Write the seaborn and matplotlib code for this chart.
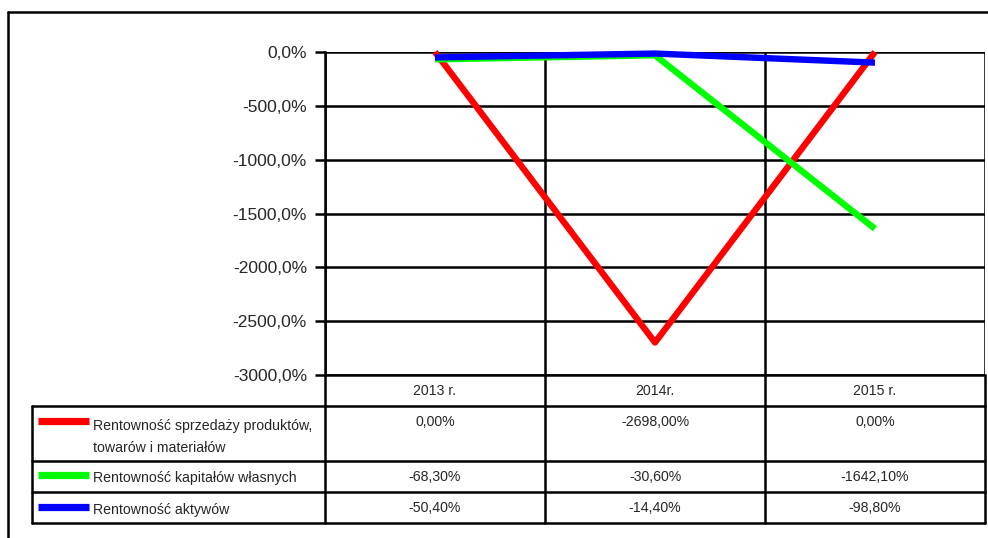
import matplotlib
matplotlib.use("Agg")
import matplotlib.pyplot as plt
import seaborn as sns
import pandas as pd
from matplotlib.lines import Line2D

categories = ["2013 r.", "2014r.", "2015 r."]
series_names = ["Rentowność sprzedaży produktów,\ntowarów i materiałów",
                "Rentowność kapitałów własnych",
                "Rentowność aktywów"]
sprzedaz = [0.00, -2698.00, 0.00]
kapital = [-68.30, -30.60, -1642.10]
aktywa = [-50.40, -14.40, -98.80]
colors = ["#ff0000", "#00ff00", "#0000ff"]
y_ticks = [0, -500, -1000, -1500, -2000, -2500, -3000]

sns.set_theme(style="white")
plt.rcParams["font.family"] = ["Liberation Sans", "DejaVu Sans"]

W, H = 988, 538
fig = plt.figure(figsize=(W / 100, H / 100), dpi=100)

def fx(px):
    return px / W

def fy(py):
    return 1 - py / H

ax = fig.add_axes([fx(325), fy(375), fx(985) - fx(325), fy(52) - fy(375)])

df = pd.DataFrame({
    "cat": categories * 3,
    "val": sprzedaz + kapital + aktywa,
    "series": [series_names[0]] * 3 + [series_names[1]] * 3 + [series_names[2]] * 3,
})
sns.lineplot(data=df, x="cat", y="val", hue="series", palette=colors,
             linewidth=4.6, legend=False, ax=ax, sort=False)
for ln in ax.get_lines():
    ln.set_clip_on(False)
    ln.set_solid_capstyle("butt")

ax.set_xlim(-0.5, 2.5)
ax.set_ylim(-3000, 0)
ax.set_yticks(y_ticks)
ax.set_yticklabels([f"{v:.1f}%".replace(".", ",") for v in y_ticks], fontsize=12.5)
ax.set_xticks([])
ax.set_xlabel("")
ax.set_ylabel("")
ax.tick_params(axis="y", direction="out", length=7, width=1.8, color="black", pad=6, left=True)
for v in y_ticks:
    ax.axhline(v, color="black", lw=1.8, zorder=0.5)
for b in [-0.5, 0.5, 1.5, 2.5]:
    ax.axvline(b, color="black", lw=1.8, zorder=0.5)
for s in ["top", "right", "bottom"]:
    ax.spines[s].set_visible(False)
ax.spines["left"].set_color("black")
ax.spines["left"].set_linewidth(1.8)

# outer chart frame
fig.add_artist(Line2D([fx(8), fx(8)], [fy(12), 0], color="black", lw=1.8, transform=fig.transFigure))
fig.add_artist(Line2D([fx(8), 1], [fy(12), fy(12)], color="black", lw=1.8, transform=fig.transFigure))

# data table
col_edges = [325, 545, 765, 985]
col_centers = [435, 655, 875]
row_edges = [375, 406, 461, 492, 523]

def hline(x0, x1, y):
    fig.add_artist(Line2D([fx(x0), fx(x1)], [fy(y), fy(y)], color="black", lw=1.8, transform=fig.transFigure))

def vline(x, y0, y1):
    fig.add_artist(Line2D([fx(x), fx(x)], [fy(y0), fy(y1)], color="black", lw=1.8, transform=fig.transFigure))

hline(325, 985, 375)
for y in row_edges[1:]:
    hline(32, 985, y)
vline(32, 406, 523)
for x in col_edges:
    vline(x, 375, 523)

fs = 10.2
for c, lab in zip(col_centers, categories):
    fig.text(fx(c), fy(391), lab, ha="center", va="center", fontsize=fs)

series_vals = [sprzedaz, kapital, aktywa]
legend_y = [421, 475, 507]
text_y = [437, 478, 510]
value_y = [422, 477, 508]
for i, (name, vals, col) in enumerate(zip(series_names, series_vals, colors)):
    fig.add_artist(Line2D([fx(38), fx(89)], [fy(legend_y[i]), fy(legend_y[i])], color=col,
                          lw=5.2, solid_capstyle="butt", transform=fig.transFigure))
    fig.text(fx(93), fy(text_y[i]), name, ha="left", va="center", fontsize=fs, linespacing=1.8)
    for c, v in zip(col_centers, vals):
        fig.text(fx(c), fy(value_y[i]), f"{v:.2f}%".replace(".", ","), ha="center", va="center", fontsize=fs)

fig.savefig("out.png", dpi=100)
